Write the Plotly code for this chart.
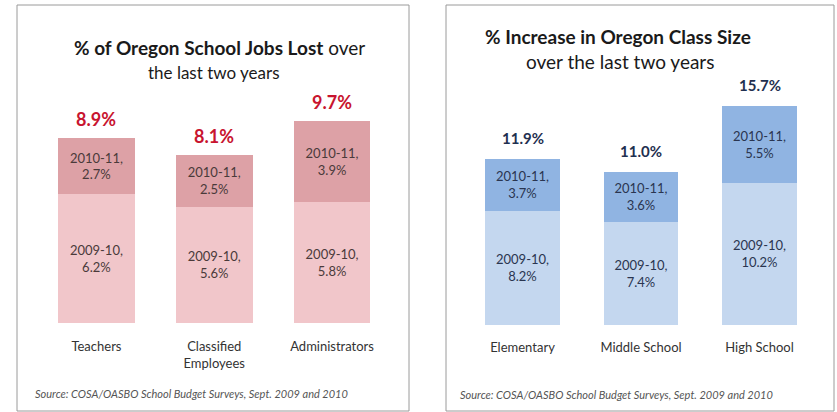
import plotly.graph_objects as go

# Oregon school jobs lost, by staff type
jobs_categories = ["Teachers", "Classified<br>Employees", "Administrators"]
jobs_2009_10 = [6.2, 5.6, 5.8]
jobs_2010_11 = [2.7, 2.5, 3.9]
jobs_total = [8.9, 8.1, 9.7]

# Oregon class size increase, by school level
class_categories = ["Elementary", "Middle School", "High School"]
class_2009_10 = [8.2, 7.4, 10.2]
class_2010_11 = [3.7, 3.6, 5.5]
class_total = [11.9, 11.0, 15.7]

W, H = 837, 412
FONT = "Lato"
SOURCE = "Source: COSA/OASBO School Budget Surveys, Sept. 2009 and 2010"


def px_x(x):
    return x / W


def px_y(y):
    return 1 - y / H


fig = go.Figure()


def seg_text(year, vals):
    return [f"{year},<br>{v:.1f}%" for v in vals]


# Left panel: stacked bars
fig.add_trace(go.Bar(
    x=jobs_categories, y=jobs_2009_10, xaxis="x", yaxis="y",
    marker=dict(color="#f1c6ca", line=dict(width=0)),
    text=seg_text("2009-10", jobs_2009_10), textposition="inside",
    insidetextanchor="middle", constraintext="none",
    textfont=dict(family=FONT, size=13, color="#4a3a3a"),
    width=0.65, hoverinfo="skip",
))
fig.add_trace(go.Bar(
    x=jobs_categories, y=jobs_2010_11, xaxis="x", yaxis="y",
    marker=dict(color="#dda1a6", line=dict(width=0)),
    text=seg_text("2010-11", jobs_2010_11), textposition="inside",
    insidetextanchor="middle", constraintext="none",
    textfont=dict(family=FONT, size=13, color="#4a3a3a"),
    width=0.65, hoverinfo="skip",
))

# Right panel: stacked bars
fig.add_trace(go.Bar(
    x=class_categories, y=class_2009_10, xaxis="x2", yaxis="y2",
    marker=dict(color="#c4d7ef", line=dict(width=0)),
    text=seg_text("2009-10", class_2009_10), textposition="inside",
    insidetextanchor="middle", constraintext="none",
    textfont=dict(family=FONT, size=13, color="#2a3550"),
    width=0.63, hoverinfo="skip",
))
fig.add_trace(go.Bar(
    x=class_categories, y=class_2010_11, xaxis="x2", yaxis="y2",
    marker=dict(color="#90b4e2", line=dict(width=0)),
    text=seg_text("2010-11", class_2010_11), textposition="inside",
    insidetextanchor="middle", constraintext="none",
    textfont=dict(family=FONT, size=13, color="#2a3550"),
    width=0.63, hoverinfo="skip",
))

annotations = []
for c, t in zip(jobs_categories, jobs_total):
    annotations.append(dict(
        x=c, y=t, xref="x", yref="y", text=f"<b>{t:.1f}%</b>",
        showarrow=False, yanchor="bottom", yshift=6,
        font=dict(family=FONT, size=18, color="#c8142f"),
    ))
for c, t in zip(class_categories, class_total):
    annotations.append(dict(
        x=c, y=t, xref="x2", yref="y2", text=f"<b>{t:.1f}%</b>",
        showarrow=False, yanchor="bottom", yshift=10,
        font=dict(family=FONT, size=15, color="#1f3050"),
    ))


def paper_text(x, y, text, size, color="#1a1a1a", xanchor="center"):
    return dict(x=px_x(x), y=px_y(y), xref="paper", yref="paper",
                showarrow=False, xanchor=xanchor, yanchor="middle",
                text=text, font=dict(family=FONT, size=size, color=color))


# Panel titles and source lines
annotations += [
    paper_text(219, 48, "<b>% of Oregon School Jobs Lost</b> over", 19),
    paper_text(214, 72, "the last two years", 17),
    paper_text(618, 37, "<b>% Increase in Oregon Class Size</b>", 19),
    paper_text(620, 62, "over the last two years", 19),
    paper_text(33, 393, f"<i>{SOURCE}</i>", 11, "#555555", "left"),
    paper_text(458, 394, f"<i>{SOURCE}</i>", 11, "#555555", "left"),
]

# Panel frames
shapes = [
    dict(type="rect", xref="paper", yref="paper",
         x0=px_x(17), x1=px_x(409), y0=px_y(411), y1=px_y(5),
         line=dict(color="#9a9a9a", width=1)),
    dict(type="rect", xref="paper", yref="paper",
         x0=px_x(446), x1=px_x(834), y0=px_y(411), y1=px_y(5),
         line=dict(color="#9a9a9a", width=1)),
]

axis_common = dict(showgrid=False, zeroline=False, showline=False, ticks="")

fig.update_layout(
    width=W, height=H, margin=dict(l=0, r=0, t=0, b=0),
    paper_bgcolor="white", plot_bgcolor="rgba(0,0,0,0)",
    barmode="stack", showlegend=False,
    font=dict(family=FONT, color="#333333"),
    xaxis=dict(domain=[px_x(37.5), px_x(391)], range=[-0.5, 2.5],
               tickfont=dict(family=FONT, size=13, color="#333333"),
               ticklabelstandoff=14, **axis_common),
    yaxis=dict(domain=[px_y(323), px_y(100)], range=[0, 223 / 20.8],
               showticklabels=False, **axis_common),
    xaxis2=dict(domain=[px_x(463.25), px_x(818.75)], range=[-0.5, 2.5],
                anchor="y2", tickfont=dict(family=FONT, size=13, color="#333333"),
                ticklabelstandoff=13, **axis_common),
    yaxis2=dict(domain=[px_y(325), px_y(80)], range=[0, 245 / 13.95],
                anchor="x2", showticklabels=False, **axis_common),
    annotations=annotations,
    shapes=shapes,
)

fig.write_html("out.html")
